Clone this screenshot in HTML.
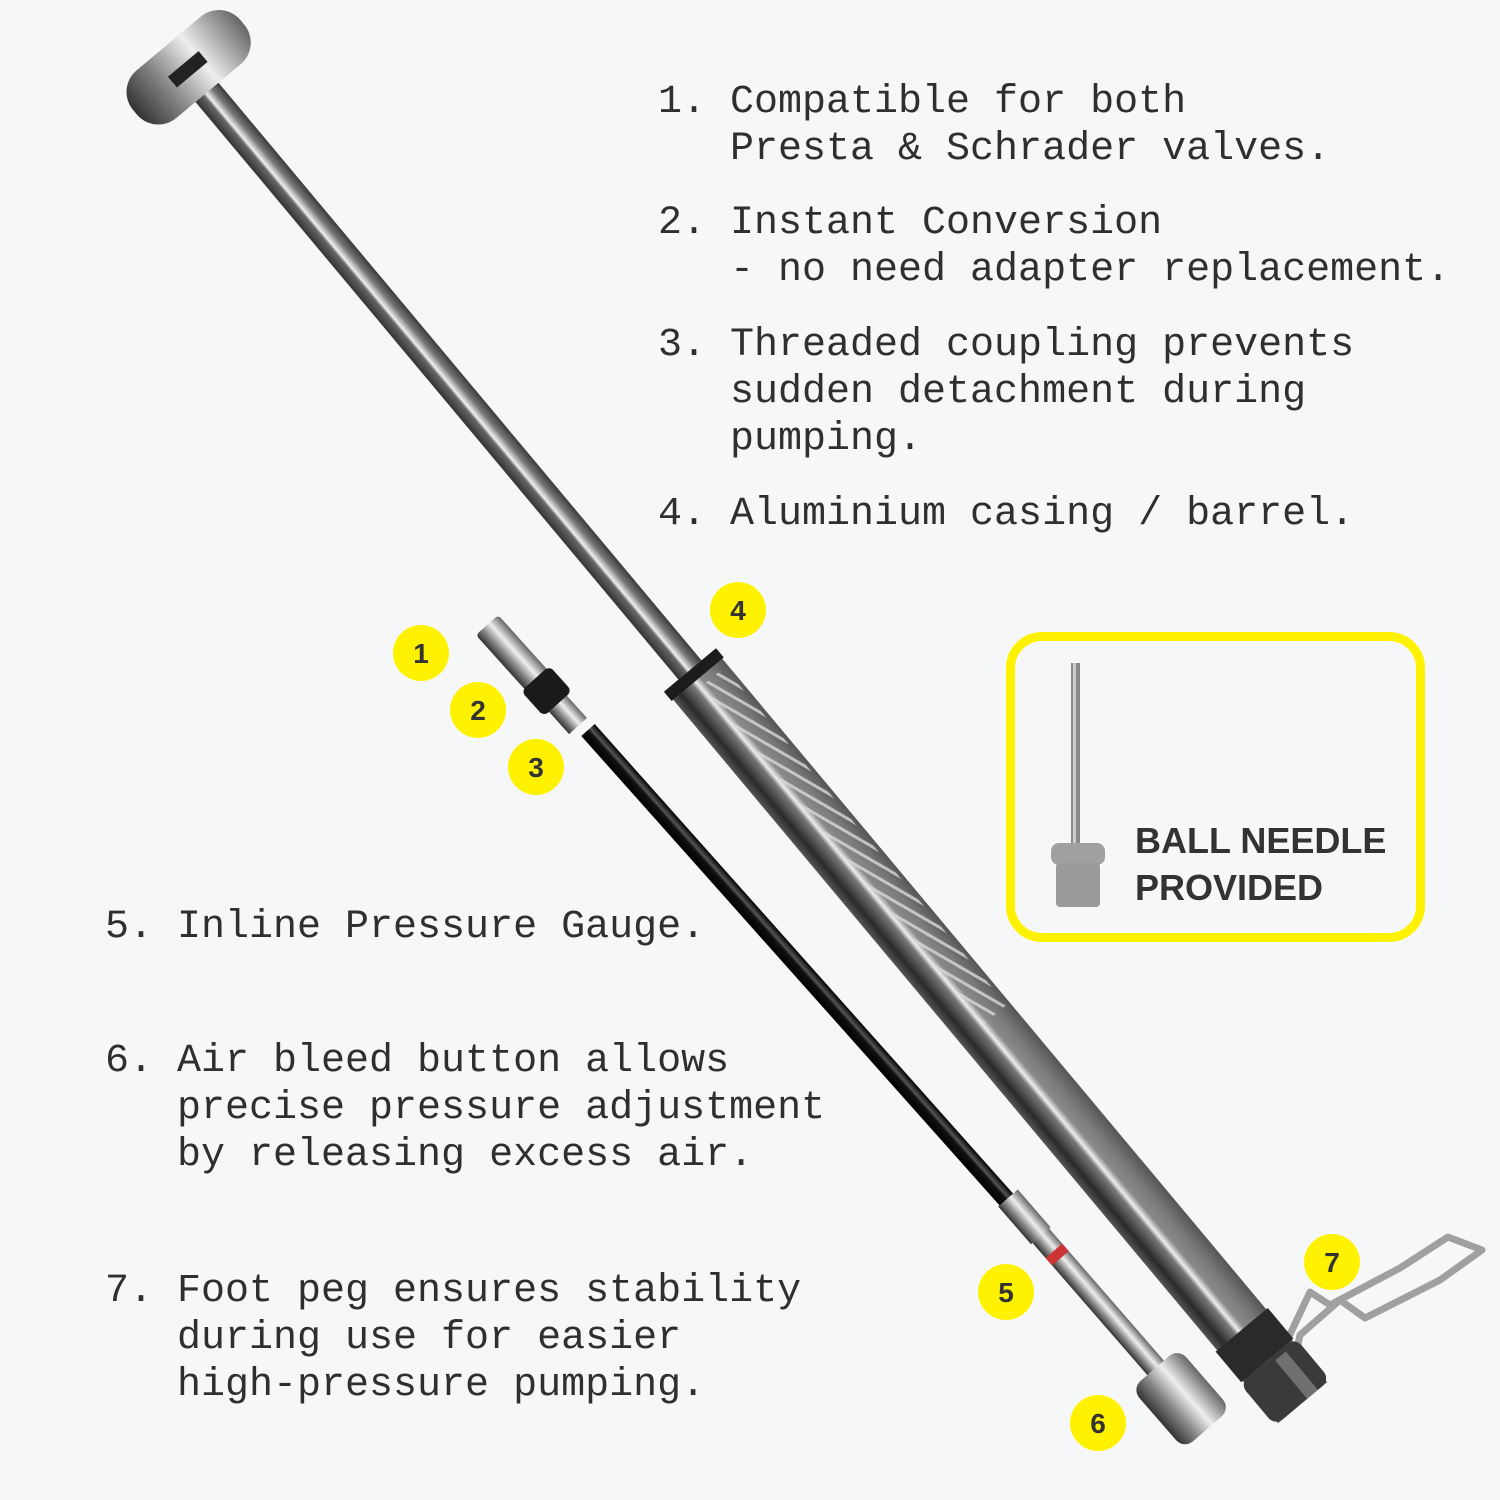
<!DOCTYPE html>
<html><head><meta charset="utf-8"><style>
html,body{margin:0;padding:0;background:#f6f7f9;}
body{width:1500px;height:1500px;position:relative;overflow:hidden;}
.t{position:absolute;font-family:"Liberation Mono",monospace;font-size:40px;line-height:47px;color:#2f2f2f;white-space:pre;}
svg{position:absolute;left:0;top:0;}
.box{position:absolute;left:1006px;top:632px;width:401px;height:292px;border:9px solid #fff200;border-radius:36px;}
.bt{position:absolute;left:1135px;top:817px;font-family:"Liberation Sans",sans-serif;font-weight:bold;font-size:36px;line-height:47px;color:#333;}
</style></head><body>
<svg width="1500" height="1500" viewBox="0 0 1500 1500">
<defs>
<linearGradient id="rod" x1="0" y1="0" x2="0" y2="1">
<stop offset="0" stop-color="#3a3a3a"/><stop offset="0.3" stop-color="#777"/><stop offset="0.55" stop-color="#f0f0f0"/><stop offset="0.65" stop-color="#666"/><stop offset="1" stop-color="#333"/></linearGradient>
<linearGradient id="bar" x1="0" y1="0" x2="0" y2="1">
<stop offset="0" stop-color="#555"/><stop offset="0.25" stop-color="#7a7a7a"/><stop offset="0.45" stop-color="#8a8a8a"/><stop offset="0.55" stop-color="#eee"/><stop offset="0.62" stop-color="#777"/><stop offset="0.85" stop-color="#2a2a2a"/><stop offset="1" stop-color="#555"/></linearGradient>
<linearGradient id="chr" x1="0" y1="0" x2="0" y2="1">
<stop offset="0" stop-color="#666"/><stop offset="0.4" stop-color="#eee"/><stop offset="0.7" stop-color="#888"/><stop offset="1" stop-color="#333"/></linearGradient>
<linearGradient id="hose" x1="0" y1="0" x2="0" y2="1">
<stop offset="0" stop-color="#000"/><stop offset="0.35" stop-color="#555"/><stop offset="0.5" stop-color="#111"/><stop offset="1" stop-color="#000"/></linearGradient>
<pattern id="hatch" width="12" height="12" patternUnits="userSpaceOnUse" patternTransform="rotate(70)">
<rect width="12" height="12" fill="none"/><rect width="3" height="12" fill="#d8d8d8"/></pattern>
</defs>
<!-- foot peg -->
<path d="M1292,1372 L1300,1335 L1340,1300 L1365,1318 L1440,1280 L1482,1250 L1448,1237 L1400,1268 L1330,1305 L1310,1292 L1285,1345" fill="none" stroke="#a0a0a0" stroke-width="7" stroke-linejoin="round"/>
<!-- pump -->
<g transform="translate(690,670) rotate(50.1)">
<rect x="-760" y="-15" width="765" height="30" fill="url(#rod)"/>
<rect x="-815" y="-72" width="62" height="140" rx="28" fill="url(#chr)"/>
<rect x="-790" y="-20" width="14" height="40" fill="#222"/>
<rect x="0" y="-32" width="955" height="64" fill="url(#bar)"/>
<rect x="20" y="-28" width="440" height="30" fill="url(#hatch)" opacity="0.8"/>
<rect x="0" y="-34" width="12" height="68" fill="#1c1c1c"/>
<rect x="860" y="-34" width="40" height="68" fill="#2a2a2a"/>
<rect x="900" y="-36" width="55" height="72" rx="10" fill="#3a3a3a"/>
<rect x="905" y="-20" width="50" height="14" fill="#888" opacity="0.7"/>
</g>
<!-- hose -->
<g transform="translate(487,625) rotate(48)">
<rect x="0" y="-15" width="75" height="30" rx="4" fill="url(#chr)"/>
<rect x="72" y="-19" width="34" height="38" rx="6" fill="#1a1a1a"/>
<rect x="106" y="-12" width="30" height="24" fill="url(#chr)"/>
</g>
<g transform="translate(588,730) rotate(48.3)">
<rect x="0" y="-9" width="632" height="18" fill="url(#hose)"/>
</g>
<g transform="translate(1008,1198) rotate(49)">
<rect x="0" y="-13" width="50" height="26" fill="url(#chr)"/>
<rect x="50" y="-11" width="185" height="22" fill="url(#chr)"/>
<rect x="70" y="-11" width="10" height="22" fill="#c33"/>
<rect x="225" y="-30" width="80" height="62" rx="12" fill="url(#chr)"/>
</g>
<!-- needle -->
<rect x="1071" y="663" width="9" height="185" fill="#8a8a8a"/>
<rect x="1073" y="663" width="3" height="185" fill="#ccc"/>
<rect x="1051" y="843" width="54" height="22" rx="8" fill="#a0a0a0"/>
<rect x="1056" y="863" width="44" height="44" rx="4" fill="#9a9a9a"/>
<!-- markers -->
<g fill="#fff200">
<circle cx="421" cy="653" r="28"/><circle cx="478" cy="710" r="28"/><circle cx="536" cy="767" r="28"/>
<circle cx="738" cy="610" r="28"/><circle cx="1006" cy="1292" r="28"/><circle cx="1098" cy="1423" r="28"/><circle cx="1332" cy="1262" r="28"/>
</g>
<g font-family="Liberation Sans, sans-serif" font-weight="bold" font-size="28" fill="#333" text-anchor="middle">
<text x="421" y="663">1</text><text x="478" y="720">2</text><text x="536" y="777">3</text>
<text x="738" y="620">4</text><text x="1006" y="1302">5</text><text x="1098" y="1433">6</text><text x="1332" y="1272">7</text>
</g>
</svg>
<div class="t" style="left:658px;top:79px">1. Compatible for both
   Presta &amp; Schrader valves.</div>
<div class="t" style="left:658px;top:200px">2. Instant Conversion
   - no need adapter replacement.</div>
<div class="t" style="left:658px;top:322px">3. Threaded coupling prevents
   sudden detachment during
   pumping.</div>
<div class="t" style="left:658px;top:491px">4. Aluminium casing / barrel.</div>
<div class="t" style="left:105px;top:904px">5. Inline Pressure Gauge.</div>
<div class="t" style="left:105px;top:1038px">6. Air bleed button allows
   precise pressure adjustment
   by releasing excess air.</div>
<div class="t" style="left:105px;top:1268px">7. Foot peg ensures stability
   during use for easier
   high-pressure pumping.</div>
<div class="box"></div>
<div class="bt">BALL NEEDLE<br>PROVIDED</div>
</body></html>
